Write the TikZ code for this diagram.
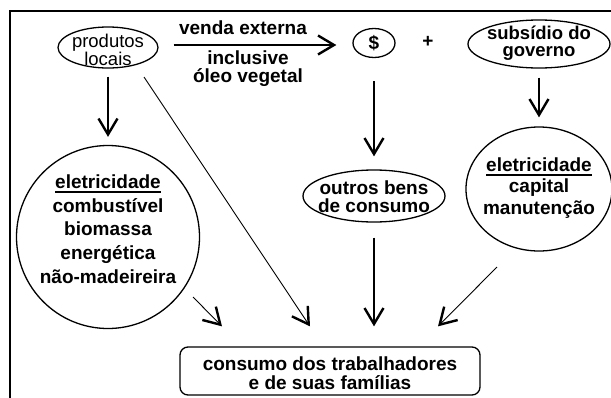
\documentclass[tikz,border=0pt]{standalone}
\usepackage{fontspec}
\setmainfont{Liberation Sans}
\usetikzlibrary{arrows.meta,shapes.geometric}
\newcommand\ulword[1]{\setbox0\hbox{#1}\rlap{\rule[-4.5pt]{\wd0}{1.6pt}}\box0}
\begin{document}
\begin{tikzpicture}[x=1pt,y=-1pt,
  every node/.style={font=\fontsize{19}{23}\selectfont\bfseries, inner sep=0pt, align=center},
  shp/.style={draw, line width=1.3pt, inner sep=0pt},
  arr/.style={line width=1.6pt, -{Straight Barb[length=16pt,width=19pt,line width=2.4pt]}},
  thinarr/.style={line width=0.9pt, -{Straight Barb[length=16pt,width=19pt,line width=2.4pt]}}
]
\useasboundingbox (0,0) rectangle (611,397);
% frame
\draw[line width=2.5pt] (616,11) -- (10,11) -- (10,403);

% shapes
\node[shp, ellipse, minimum width=100pt, minimum height=41pt] (prod) at (108,47.5) {};
\node[font=\fontsize{18.5}{16.5}\selectfont] (prodt) at (108,50) {produtos\\locais};

\node[shp, ellipse, minimum width=42pt, minimum height=29pt] (dol) at (374,43) {\$};
\node (plus) at (428,42) {+};

\node[shp, ellipse, minimum width=142pt, minimum height=48pt] (subs) at (539,44) {};
\node[font=\fontsize{18.5}{17.5}\selectfont\bfseries] (subst) at (539,43) {subsídio do\\governo};

\node[shp, circle, minimum size=183pt] (lc) at (108,237) {};
\node[font=\fontsize{19}{23.7}\selectfont\bfseries] (lct) at (108,229)
  {\ulword{eletricidade}\\combustível\\biomassa\\energética\\não-madeireira};

\node[shp, ellipse, minimum width=142pt, minimum height=52pt] (outros) at (374,196) {};
\node[font=\fontsize{19}{18}\selectfont\bfseries] (outrost) at (374,197) {outros bens\\de consumo};

\node[shp, ellipse, minimum width=146pt, minimum height=124pt] (rc) at (539,189) {};
\node[font=\fontsize{19}{21.5}\selectfont\bfseries] (rct) at (539,188)
  {\ulword{eletricidade}\\capital\\manutenção};

\node[shp, rounded corners=8pt, minimum width=300pt, minimum height=48pt] (box) at (330,371) {};
\node[font=\fontsize{19}{18.5}\selectfont\bfseries] (boxt) at (330,373)
  {consumo dos trabalhadores\\e de suas famílias};

% venda externa arrow and labels
\draw[arr] ([shift={(15,-2.5)}]prod.east) -- ([shift={(-16,2)}]dol.west);
\node (ve) at (243,28) {venda externa};
\node[font=\fontsize{19}{18}\selectfont\bfseries] (inc) at (248,69) {inclusive\\óleo vegetal};

% vertical arrows
\draw[arr, shorten <=8pt, shorten >=8pt] (prod) -- (lc);
\draw[arr, shorten <=23pt, shorten >=13pt] (dol) -- (outros);
\draw[arr, shorten <=9pt, shorten >=9pt] (subs) -- (rc);
\draw[arr, shorten <=15pt, shorten >=20pt] (outros) -- (outros |- box.north);

% diagonal arrows
\draw[thinarr] ([shift={(36,29.5)}]prod.center) -- ([shift={(-20,-20)}]box.north);
\draw[thinarr] ([shift={(85,60)}]lc.center) -- ([shift={(-108,-20)}]box.north);
\draw[thinarr] ([shift={(-42,78)}]rc.center) -- ([shift={(108,-20)}]box.north);
\end{tikzpicture}
\end{document}
